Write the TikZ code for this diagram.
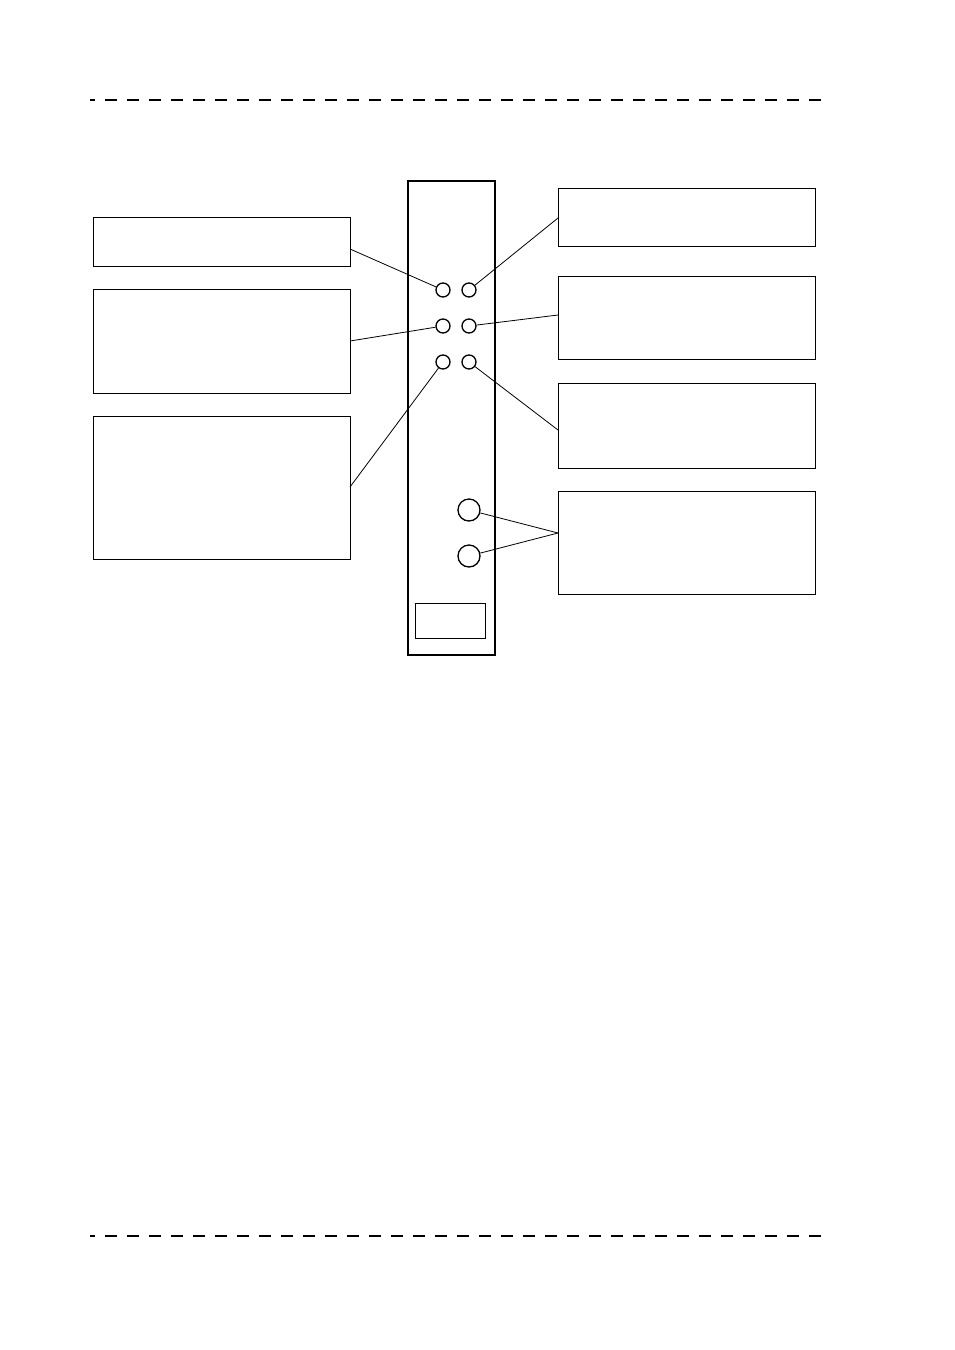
\documentclass[tikz,border=0pt]{standalone}
\usetikzlibrary{calc}
\begin{document}
\begin{tikzpicture}[x=1pt,y=-1pt,
  lbl/.style={draw,line width=0.9pt,minimum width=257pt,anchor=north west,inner sep=0pt},
  led/.style={draw,circle,line width=1.3pt,minimum size=14pt,inner sep=0pt},
  jack/.style={draw,circle,line width=1.3pt,minimum size=22pt,inner sep=0pt},
  conn/.style={line width=0.8pt},
  rule/.style={line width=1.4pt,dash pattern=on 12pt off 10pt,dash phase=7pt}]
\useasboundingbox (0,0) rectangle (954,1350);
% dashed rules
\coordinate (t1) at (90,100); \coordinate (t2) at (823,100);
\coordinate (b1r) at (90,1236); \coordinate (b2r) at (823,1236);
\draw[rule] (t1) -- (t2);
\draw[rule] (b1r) -- (b2r);
% panel
\node[draw,line width=1.8pt,minimum width=87pt,minimum height=474pt,inner sep=0pt,anchor=north west] (panel) at (407,180) {};
\node[draw,line width=1.3pt,minimum width=70pt,minimum height=35pt,inner sep=0pt,anchor=north west] (label) at (415,603) {};
% leds
\node[led] (c11) at (443,290) {};
\node[led] (c12) at (469,290) {};
\node[led] (c21) at (443,326) {};
\node[led] (c22) at (469,326) {};
\node[led] (c31) at (443,362) {};
\node[led] (c32) at (469,362) {};
\node[jack] (j1) at (469,510) {};
\node[jack] (j2) at (469,556) {};
% boxes
\node[lbl,minimum height=49pt] (A) at (93,217) {};
\node[lbl,minimum height=104pt] (B) at (93,289) {};
\node[lbl,minimum height=143pt] (C) at (93,416) {};
\node[lbl,minimum height=58pt] (D) at (558,188) {};
\node[lbl,minimum height=83pt] (E) at (558,276) {};
\node[lbl,minimum height=85pt] (F) at (558,383) {};
\node[lbl,minimum height=103pt] (G) at (558,491) {};
% connector ends on boxes
\coordinate (pA) at (350,249);
\coordinate (pB) at (350,341);
\coordinate (pC) at (350,487);
\coordinate (pD) at (558,218);
\coordinate (pE) at (558,315);
\coordinate (pF) at (558,430);
\coordinate (pG) at (558,533);
\draw[conn] (pA) -- (c11);
\draw[conn] (pB) -- (c21);
\draw[conn] (pC) -- (c31);
\draw[conn] (pD) -- (c12);
\draw[conn] (pE) -- (c22);
\draw[conn] (pF) -- (c32);
\draw[conn] (pG) -- (j1);
\draw[conn] (pG) -- (j2);
\end{tikzpicture}
\end{document}
